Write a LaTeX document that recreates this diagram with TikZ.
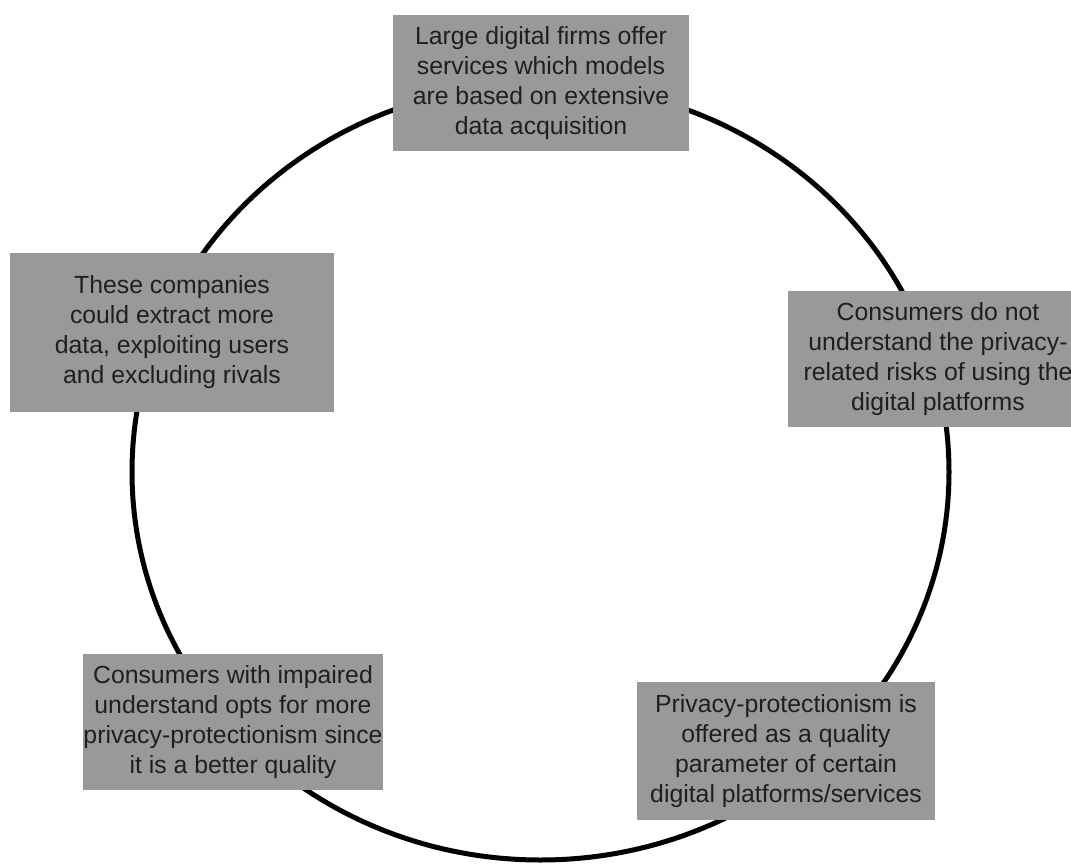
\documentclass[tikz,border=0pt]{standalone}
\usepackage{fontspec}
\setmainfont{Liberation Sans}
\begin{document}
\begin{tikzpicture}[x=1pt,y=-1pt,
  box/.style={fill=boxgray, draw=none, inner sep=0pt, align=center,
    text=black!88, font=\fontsize{24.8}{30}\selectfont},
  ring/.style={draw=black, line width=5pt}]
\definecolor{boxgray}{HTML}{999999}
\useasboundingbox (0,0) rectangle (1071,864);
\fill[white] (0,0) rectangle (1071,864);
\draw[ring] (540.5,472) ellipse [x radius=408.5pt, y radius=388pt];
\node[box, minimum width=296pt, minimum height=136pt] (firms) at (541,83)
  {Large digital firms offer\\services which models\\are based on extensive\\data acquisition};
\node[box, minimum width=300pt, minimum height=136pt] (risks) at (938,359)
  {Consumers do not\\understand the privacy-\\related risks of using the\\digital platforms};
\node[box, minimum width=298pt, minimum height=138pt] (quality) at (786,751)
  {Privacy-protectionism is\\offered as a quality\\parameter of certain\\digital platforms/services};
\node[box, minimum width=300pt, minimum height=136pt] (opts) at (233,722)
  {Consumers with impaired\\understand opts for more\\privacy-protectionism since\\it is a better quality};
\node[box, minimum width=324pt, minimum height=159pt] (extract) at (172,332.5)
  {These companies\\could extract more\\data, exploiting users\\and excluding rivals};
\end{tikzpicture}
\end{document}
